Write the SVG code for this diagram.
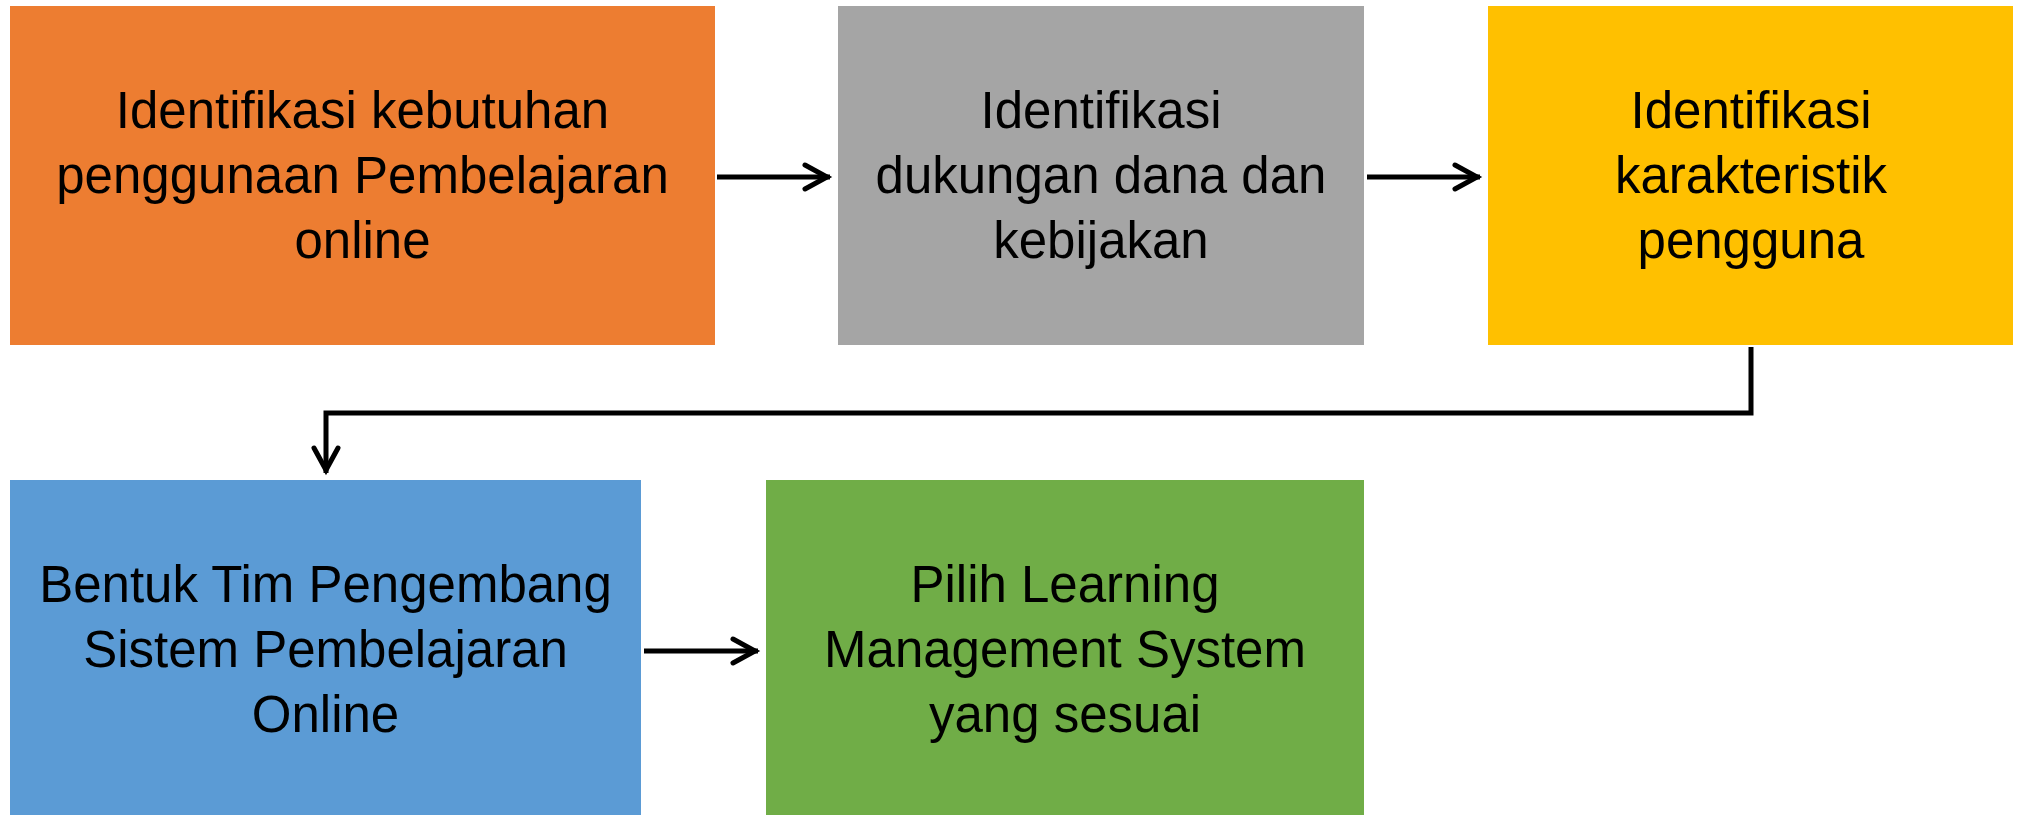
<svg xmlns="http://www.w3.org/2000/svg" width="2019" height="815" viewBox="0 0 2019 815">
<style>
.lbl{font-family:"Liberation Sans",Arial,sans-serif;font-size:51px;fill:#000;text-anchor:middle}
.cn{fill:none;stroke:#000;stroke-width:5}
</style>
<defs>
<marker id="ah" markerUnits="userSpaceOnUse" markerWidth="40" markerHeight="40" viewBox="-34 -20 40 40" refX="0" refY="0" orient="auto">
<path d="M-25,-12 L-3,0 L-25,12" fill="none" stroke="#000" stroke-width="5" stroke-linecap="round" stroke-linejoin="miter"/>
</marker>
</defs>
<rect width="2019" height="815" fill="#fff"/>
<g id="n1"><rect x="10" y="6" width="705" height="339" fill="#ED7D31"/>
<text class="lbl"><tspan x="362.5" y="128">Identifikasi kebutuhan</tspan><tspan x="362.5" y="193">penggunaan Pembelajaran</tspan><tspan x="362.5" y="258">online</tspan></text></g>
<g id="n2"><rect x="838" y="6" width="526" height="339" fill="#A5A5A5"/>
<text class="lbl"><tspan x="1101" y="128">Identifikasi</tspan><tspan x="1101" y="193">dukungan dana dan</tspan><tspan x="1101" y="258">kebijakan</tspan></text></g>
<g id="n3"><rect x="1488" y="6" width="525" height="339" fill="#FFC000"/>
<text class="lbl"><tspan x="1751" y="128">Identifikasi</tspan><tspan x="1751" y="193">karakteristik</tspan><tspan x="1751" y="258">pengguna</tspan></text></g>
<g id="n4"><rect x="10" y="480" width="631" height="335" fill="#5B9BD5"/>
<text class="lbl"><tspan x="325.5" y="602">Bentuk Tim Pengembang</tspan><tspan x="325.5" y="667">Sistem Pembelajaran</tspan><tspan x="325.5" y="732">Online</tspan></text></g>
<g id="n5"><rect x="766" y="480" width="598" height="335" fill="#70AD47"/>
<text class="lbl"><tspan x="1065" y="602">Pilih Learning</tspan><tspan x="1065" y="667">Management System</tspan><tspan x="1065" y="732">yang sesuai</tspan></text></g>
<g id="connectors">
<path class="cn" d="M717,177 H830" marker-end="url(#ah)"/>
<path class="cn" d="M1367,177 H1480" marker-end="url(#ah)"/>
<path class="cn" d="M1751,347 V413 H326 V473" stroke-width="6" marker-end="url(#ah)"/>
<path class="cn" d="M644,651 H758" marker-end="url(#ah)"/>
</g>
</svg>
